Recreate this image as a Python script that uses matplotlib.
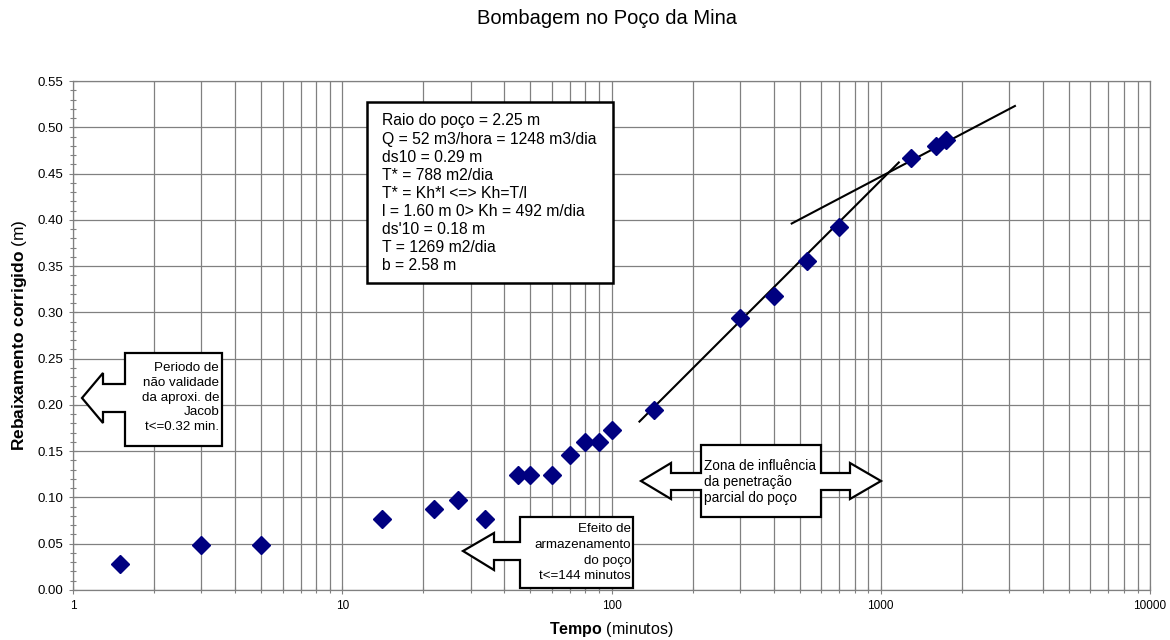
import matplotlib
matplotlib.use("Agg")
import matplotlib.pyplot as plt
from matplotlib.patches import Polygon, Rectangle
from matplotlib.transforms import Affine2D
from matplotlib.ticker import FixedLocator, FuncFormatter, MultipleLocator

plt.rcParams['font.family'] = ['Liberation Sans', 'DejaVu Sans']
plt.rcParams['mathtext.fontset'] = 'custom'
plt.rcParams['mathtext.rm'] = 'Liberation Sans'
plt.rcParams['mathtext.bf'] = 'Liberation Sans:bold'

# ---- data ----
tempo = [1.5, 3, 5, 14, 22, 27, 34, 45, 50, 60, 70, 80, 90, 100, 144,
         300, 400, 530, 700, 1300, 1600, 1750]
rebaixamento = [0.028, 0.049, 0.049, 0.077, 0.087, 0.097, 0.077, 0.124, 0.124,
                0.124, 0.146, 0.160, 0.160, 0.173, 0.195, 0.294, 0.318,
                0.355, 0.392, 0.467, 0.480, 0.486]

reta1_t = [127, 1167]
reta1_s = [0.182, 0.462]
reta2_t = [467, 3150]
reta2_s = [0.396, 0.523]

info_lines = ["Raio do poço = 2.25 m",
              "Q = 52 m3/hora = 1248 m3/dia",
              "ds10 = 0.29 m",
              "T* = 788 m2/dia",
              "T* = Kh*l <=> Kh=T/l",
              "l = 1.60 m 0> Kh = 492 m/dia",
              "ds'10 = 0.18 m",
              "T = 1269 m2/dia",
              "b = 2.58 m"]
jacob_lines = ["Periodo de", "não validade", "da aproxi. de", "Jacob", "t<=0.32 min."]
armaz_lines = ["Efeito de", "armazenamento", "do poço", "t<=144 minutos"]
zona_lines = ["Zona de influência", "da penetração", "parcial do poço"]

x_ticks = [1, 10, 100, 1000, 10000]
y_ticks = [0.00, 0.05, 0.10, 0.15, 0.20, 0.25, 0.30, 0.35, 0.40, 0.45, 0.50, 0.55]

W, H = 1170, 640
fig = plt.figure(figsize=(W / 100, H / 100), dpi=100)
ax = fig.add_axes([73 / W, 1 - 590 / H, (1150 - 73) / W, (590 - 81) / H])

grid_c = '#808080'
ax.set_xscale('log')
ax.set_xlim(1, 10000)
ax.set_ylim(0, 0.55)
ax.xaxis.set_major_locator(FixedLocator(x_ticks))
minors = [m * d for d in [1, 10, 100, 1000] for m in range(2, 10)]
ax.xaxis.set_minor_locator(FixedLocator(minors))
ax.xaxis.set_major_formatter(FuncFormatter(lambda v, p: f"{v:g}"))
ax.xaxis.set_minor_formatter(FuncFormatter(lambda v, p: ""))
ax.yaxis.set_major_locator(FixedLocator(y_ticks))
ax.yaxis.set_minor_locator(MultipleLocator(0.01))
ax.yaxis.set_major_formatter(FuncFormatter(lambda v, p: f"{v:.2f}"))

ax.grid(True, which='major', axis='both', color=grid_c, lw=0.9)
ax.grid(True, which='minor', axis='x', color=grid_c, lw=0.9)
ax.set_axisbelow(True)
for s in ax.spines.values():
    s.set_color(grid_c)
    s.set_linewidth(0.9)
ax.tick_params(axis='both', which='major', direction='inout', length=6, width=0.8,
               color=grid_c, labelcolor='black', pad=4)
ax.tick_params(axis='y', which='major', labelsize=9.5)
ax.tick_params(axis='x', which='major', labelsize=8.5)
ax.tick_params(axis='both', which='minor', direction='inout', length=4, width=0.8,
               color=grid_c)

ax.plot(reta1_t, reta1_s, color='black', lw=1.5, zorder=3)
ax.plot(reta2_t, reta2_s, color='black', lw=1.5, zorder=3)
ax.plot(tempo, rebaixamento, linestyle='none', marker='D', markersize=9.5,
        color='#000080', markeredgecolor='#000080', zorder=4, clip_on=False)

ax.set_ylabel(r"$\bf{Rebaixamento\ corrigido}$ (m)", fontsize=12.5, labelpad=6)
ax.set_xlabel(r"$\bf{Tempo}$ (minutos)", fontsize=11.5, labelpad=6)

fig.text(607 / W, 1 - 19 / H, "Bombagem no Poço da Mina", ha='center', va='center',
         fontsize=14.5)

# pixel transform (origin top-left)
pix = Affine2D().scale(1 / W, -1 / H).translate(0, 1) + fig.transFigure

def add_poly(pts):
    fig.patches.append(Polygon(pts, closed=True, facecolor='white', edgecolor='black',
                               lw=1.6, transform=pix, zorder=10))

# info box
fig.patches.append(Rectangle((367, 102), 246, 181, facecolor='white', edgecolor='black',
                             lw=1.8, transform=pix, zorder=10))
for i, s in enumerate(info_lines):
    fig.text(382, 121 + i * 18.1, s, transform=pix, ha='left', va='center',
             fontsize=11.3, zorder=11)

# Jacob callout (left arrow)
add_poly([(222, 353), (125, 353), (125, 384), (103, 384), (103, 373), (82, 398),
          (103, 423), (103, 412), (125, 412), (125, 446), (222, 446)])
for i, s in enumerate(jacob_lines):
    fig.text(219, 368 + i * 14.8, s, transform=pix, ha='right', va='center',
             fontsize=9.6, zorder=11)

# storage callout (left arrow)
add_poly([(633, 517), (520, 517), (520, 542), (494, 542), (494, 533), (463, 551),
          (494, 570), (494, 560), (520, 560), (520, 588), (633, 588)])
for i, s in enumerate(armaz_lines):
    fig.text(631, 529 + i * 15.8, s, transform=pix, ha='right', va='center',
             fontsize=9.6, zorder=11)

# influence zone (double arrow)
add_poly([(701, 445), (821, 445), (821, 473), (850, 473), (850, 463), (881, 481),
          (850, 499), (850, 490), (821, 490), (821, 517), (701, 517), (701, 490),
          (671, 490), (671, 499), (641, 481), (671, 463), (671, 473), (701, 473)])
for i, s in enumerate(zona_lines):
    fig.text(704, 466 + i * 16, s, transform=pix, ha='left', va='center',
             fontsize=9.8, zorder=11)

fig.savefig("out.png", dpi=100)
